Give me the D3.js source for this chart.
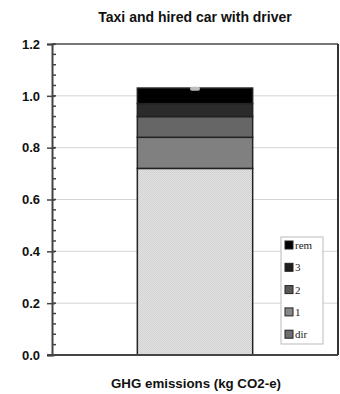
<!DOCTYPE html>
<html>
<head>
<meta charset="utf-8">
<script src="https://cdn.jsdelivr.net/npm/d3@7"></script>
<style>
  html, body { margin: 0; padding: 0; background: #fff; }
  svg { display: block; }
</style>
</head>
<body>
<svg id="chart" width="340" height="394"></svg>
<script>
// Stacked emission components (kg CO2-e), bottom to top
const categories = ["dir", "1", "2", "3", "rem"];
const values = [0.72, 0.12, 0.08, 0.05, 0.06];
const fills = ["url(#dots)", "#808080", "#666666", "#2b2b2b", "#000000"];
const legendFills = ["#6e6e6e", "#888888", "#5a5a5a", "#1e1e1e", "#000000"];
const errorRange = [1.02, 1.035];
const yTicks = [0, 0.2, 0.4, 0.6, 0.8, 1.0, 1.2];
const minorTicks = d3.range(0, 1.2001, 0.04);

const svg = d3.select("#chart");
const plotLeft = 52, plotRight = 338, plotTop = 44, plotBottom = 355;

const defs = svg.append("defs");
const pat = defs.append("pattern").attr("id", "dots")
  .attr("width", 2).attr("height", 2).attr("patternUnits", "userSpaceOnUse");
pat.append("rect").attr("width", 2).attr("height", 2).attr("fill", "#e2e2e2");
pat.append("rect").attr("width", 1).attr("height", 1).attr("fill", "#cfcfcf");
pat.append("rect").attr("x", 1).attr("y", 1).attr("width", 1).attr("height", 1).attr("fill", "#d4d4d4");

const y = d3.scaleLinear().domain([0, 1.2]).range([plotBottom, plotTop]);
const x = d3.scaleBand().domain(["GHG"]).range([plotLeft, plotRight]).paddingInner(0).paddingOuter(0.74);

// Title
svg.append("text").attr("x", 195).attr("y", 22).attr("text-anchor", "middle")
  .attr("font-family", "Liberation Sans, Arial, sans-serif").attr("font-weight", "bold")
  .attr("font-size", 14).attr("fill", "#111").text("Taxi and hired car with driver");

// Gridlines
svg.append("g").selectAll("line").data(yTicks.filter(d => d > 0 && d < 1.2)).join("line")
  .attr("x1", plotLeft).attr("x2", plotRight).attr("y1", d => y(d)).attr("y2", d => y(d))
  .attr("stroke", "#d4d4d4").attr("stroke-width", 1);

// Frame: top and right
svg.append("line").attr("x1", plotLeft).attr("x2", plotRight).attr("y1", plotTop).attr("y2", plotTop)
  .attr("stroke", "#777").attr("stroke-width", 2);
svg.append("line").attr("x1", plotRight).attr("x2", plotRight).attr("y1", plotTop).attr("y2", plotBottom)
  .attr("stroke", "#333").attr("stroke-width", 2);

// Stacked bar
let acc = 0;
const segs = values.map((v, i) => { const s = { key: categories[i], y0: acc, y1: acc + v, fill: fills[i] }; acc += v; return s; });
const bx = x("GHG"), bw = x.bandwidth();
svg.append("g").selectAll("rect").data(segs).join("rect")
  .attr("x", bx).attr("width", bw)
  .attr("y", d => y(d.y1)).attr("height", d => y(d.y0) - y(d.y1))
  .attr("fill", d => d.fill).attr("stroke", "#222").attr("stroke-width", 1.5);

// Error bar cap at the top of the stack
svg.append("rect")
  .attr("x", bx + bw / 2 - 5).attr("width", 10)
  .attr("y", y(errorRange[1])).attr("height", y(errorRange[0]) - y(errorRange[1]))
  .attr("rx", 2).attr("fill", "#bdbdbd");

// Y axis
const yAxis = d3.axisLeft(y).tickValues(yTicks).tickFormat(d3.format(".1f")).tickSize(5).tickPadding(7);
const gy = svg.append("g").attr("transform", `translate(${plotLeft},0)`).call(yAxis);
gy.select(".domain").attr("stroke", "#444").attr("stroke-width", 2);
gy.selectAll(".tick line").attr("stroke", "#444").attr("stroke-width", 1.5).attr("x2", -5).attr("x1", 3);
gy.selectAll("text").attr("font-family", "Liberation Sans, Arial, sans-serif")
  .attr("font-weight", "bold").attr("font-size", 13).attr("fill", "#111");
svg.append("g").selectAll("line").data(minorTicks).join("line")
  .attr("x1", plotLeft).attr("x2", plotLeft + 4).attr("y1", d => y(d)).attr("y2", d => y(d))
  .attr("stroke", "#444").attr("stroke-width", 1.5);

// X axis baseline
svg.append("line").attr("x1", plotLeft - 5).attr("x2", plotRight).attr("y1", plotBottom).attr("y2", plotBottom)
  .attr("stroke", "#444").attr("stroke-width", 2);

// X label
svg.append("text").attr("x", 196).attr("y", 388).attr("text-anchor", "middle")
  .attr("font-family", "Liberation Sans, Arial, sans-serif").attr("font-weight", "bold")
  .attr("font-size", 13.3).attr("fill", "#111").text("GHG emissions (kg CO2-e)");

// Legend (top entry is the top of the stack)
const lg = svg.append("g").attr("transform", "translate(281,237)");
lg.append("rect").attr("width", 42).attr("height", 107).attr("fill", "#fff")
  .attr("stroke", "#bbb").attr("stroke-width", 1);
const order = d3.range(categories.length).reverse();
const items = lg.selectAll("g.item").data(order).join("g").attr("class", "item")
  .attr("transform", (d, i) => `translate(4,${9 + i * 22.3})`);
items.append("rect").attr("x", 0).attr("y", -5).attr("width", 8).attr("height", 8)
  .attr("fill", d => legendFills[d]).attr("stroke", "#222").attr("stroke-width", 1);
items.append("text").attr("x", 10).attr("y", 3)
  .attr("font-family", "Liberation Serif, Times New Roman, serif").attr("font-size", 11)
  .attr("fill", "#222").text(d => categories[d]);
</script>
</body>
</html>
